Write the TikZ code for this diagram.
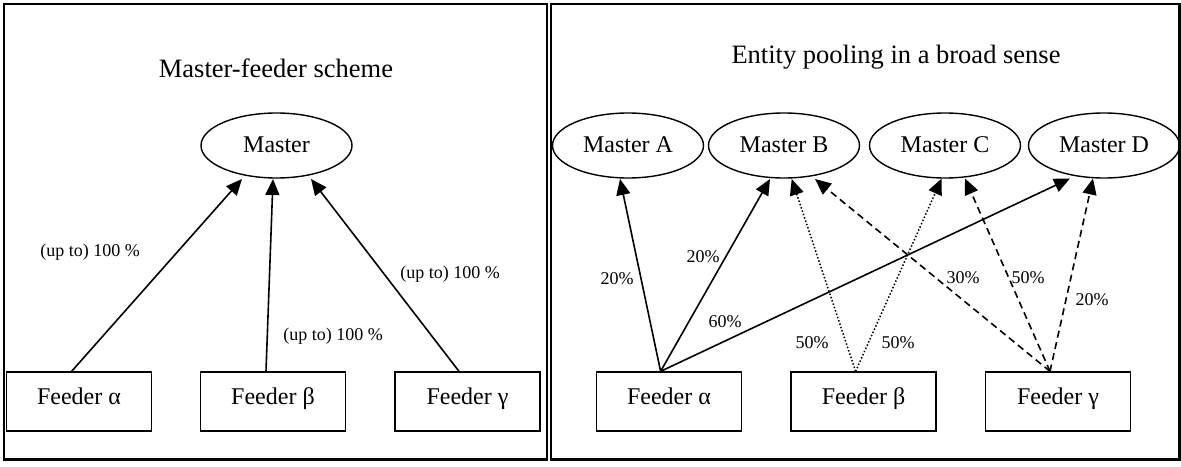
\documentclass[tikz,border=0pt]{standalone}
\usepackage{fontspec}
\setmainfont{Liberation Serif}
\usetikzlibrary{arrows.meta,calc,shapes.geometric}
\begin{document}
\begin{tikzpicture}[x=1pt,y=-1pt,
  frame/.style={draw, line width=2.5pt},
  master/.style={ellipse, draw, line width=1.4pt, minimum width=151pt, minimum height=65pt, inner sep=0pt, font=\fontsize{24}{28}\selectfont, text height=16pt, text depth=2pt},
  feeder/.style={rectangle, draw, line width=1.3pt, minimum width=145pt, minimum height=59pt, inner sep=0pt, font=\fontsize{24}{28}\selectfont, text height=12pt, text depth=7pt},
  title/.style={anchor=base, inner sep=0pt, font=\fontsize{26.5}{30}\selectfont},
  lab/.style={anchor=base, inner sep=0pt, font=\fontsize{18}{20}\selectfont},
  conn/.style={line width=1.6pt, -{Triangle[length=16pt,width=14pt]}},
  dotc/.style={conn, line width=1.5pt, dash pattern=on 1.5pt off 2pt},
  dashc/.style={conn, dash pattern=on 7pt off 4.5pt},
]
\useasboundingbox (0,0) rectangle (1181,466);
% frames
\draw[frame] (4,4) rectangle (547,459.5);
\draw[frame] (551,4) rectangle (1179.5,459.5);

% ---------- left panel ----------
\node[title] (t1) at (276,77) {Master-feeder scheme};
\node[master] (m) at (276.5,145.5) {Master};
\node[feeder] (fa) at (79,401.5) {Feeder α};
\node[feeder] (fb) at (273,401.5) {Feeder β};
\node[feeder] (fg) at (467.5,401.5) {Feeder γ};

\draw[conn] ($(fa.north)+(-7.4,0)$) -- ($(m.center)+(-34.5,33.5)$);
\draw[conn] ($(fb.north)+(-7,0)$) -- ($(m.center)+(-3.5,33.5)$);
\draw[conn] ($(fg.north)+(-8.5,0)$) -- ($(m.center)+(34.5,33.5)$);

\node[lab] (l1) at (90,256) {(up to) 100 \%};
\node[lab] (l2) at (333,340) {(up to) 100 \%};
\node[lab] (l3) at (450,278) {(up to) 100 \%};

% ---------- right panel ----------
\node[title] (t2) at (896,63) {Entity pooling in a broad sense};
\node[master] (ma) at (628,145.5) {Master A};
\node[master] (mb) at (784,145.5) {Master B};
\node[master] (mc) at (945,145.5) {Master C};
\node[master] (md) at (1104,145.5) {Master D};
\node[feeder] (ra) at (669,401.5) {Feeder α};
\node[feeder] (rb) at (863.6,401.5) {Feeder β};
\node[feeder] (rg) at (1058,401.5) {Feeder γ};

\coordinate (sa) at ($(ra.north)+(-8.4,0)$);
\coordinate (sb) at ($(rb.north)+(-8,0)$);
\coordinate (sg) at ($(rg.north)+(-8,0)$);

\draw[conn] (sa) -- ($(ma.center)+(-8,33.5)$);
\draw[conn] (sa) -- ($(mb.center)+(-14,33.5)$);
\draw[conn] (sa) -- ($(md.center)+(-34,33)$);
\draw[dotc] (sb) -- ($(mb.center)+(7.7,33.5)$);
\draw[dotc] (sb) -- ($(mc.center)+(-3.3,33)$);
\draw[dashc] (sg) -- ($(mb.center)+(31,33.5)$);
\draw[dashc] (sg) -- ($(mc.center)+(20,33)$);
\draw[dashc] (sg) -- ($(md.center)+(-11,33)$);

\node[lab] (p1) at (617,284) {20\%};
\node[lab] (p2) at (703,262) {20\%};
\node[lab] (p3) at (725,327) {60\%};
\node[lab] (p4) at (812,348) {50\%};
\node[lab] (p5) at (898,348) {50\%};
\node[lab] (p6) at (963,283) {30\%};
\node[lab] (p7) at (1028,283) {50\%};
\node[lab] (p8) at (1092,305) {20\%};
\end{tikzpicture}
\end{document}
